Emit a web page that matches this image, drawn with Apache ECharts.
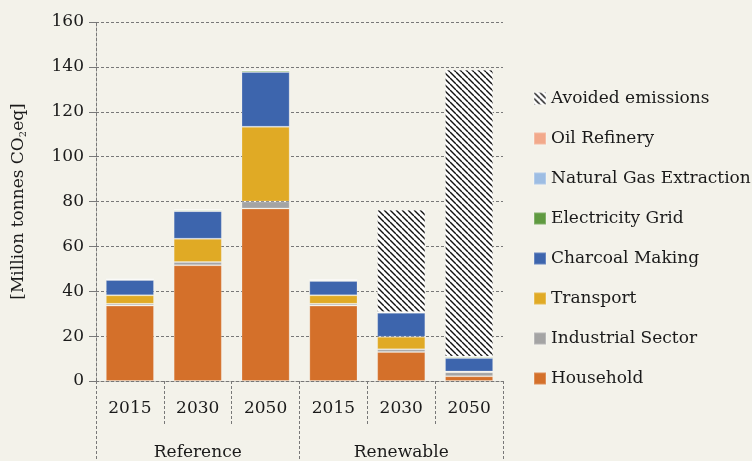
<!DOCTYPE html>
<html>
<head>
<meta charset="utf-8">
<script src="https://cdn.jsdelivr.net/npm/echarts@6/dist/echarts.min.js"></script>
<style>
  html, body { margin: 0; padding: 0; background: #f3f2ea; }
  #chart { width: 752px; height: 461px; }
</style>
</head>
<body>
<div id="chart"></div>
<script>
// Emissions by sector, million tonnes CO2eq
const years = ['2015', '2030', '2050', '2015', '2030', '2050'];
const scenarios = ['Reference', 'Renewable'];

const household   = [33.6, 51.6, 76.9, 33.6, 12.9, 2.1];
const industrial  = [0.8, 1.4, 3.1, 0.8, 1.2, 1.8];
const transport   = [3.8, 10.4, 33.3, 3.8, 5.6, 0.3];
const charcoal    = [6.8, 12.3, 24.4, 6.4, 10.7, 6.0];
const electricity = [0.3, 0.5, 0.7, 0.4, 0.2, 0.6];
const naturalGas  = [0.05, 0.05, 0.05, 0.05, 0.05, 0.05];
const oilRefinery = [0.05, 0.05, 0.05, 0.05, 0.05, 0.05];
const avoided     = [0, 0, 0, 0, 45.6, 127.8];

const FONT = 'DejaVu Serif';
const TEXT = '#1a1a1a';
const DASH = '#787878';
const DASH_PATTERN = [3, 2];

// diagonal black/white hatch for avoided emissions
function hatch() {
  const c = document.createElement('canvas');
  const s = 6;
  c.width = s; c.height = s;
  const g = c.getContext('2d');
  g.fillStyle = '#ffffff';
  g.fillRect(0, 0, s, s);
  g.strokeStyle = '#111111';
  g.lineWidth = 1.4;
  for (let k = -1; k <= 1; k++) {
    g.beginPath();
    g.moveTo(k * s, 0);
    g.lineTo(k * s + s, s);
    g.stroke();
  }
  return { image: c, repeat: 'repeat' };
}

const chart = echarts.init(document.getElementById('chart'), null, { renderer: 'canvas' });

function bar(name, data, color) {
  return {
    name, type: 'bar', stack: 'total', data,
    barCategoryGap: '29%',
    itemStyle: { color, borderColor: 'rgba(255,255,255,0.22)', borderWidth: 1 },
    emphasis: { disabled: true }
  };
}

chart.setOption({
  backgroundColor: '#f3f2ea',
  animation: false,
  textStyle: { fontFamily: FONT, color: TEXT },
  grid: { left: 96, right: 249, top: 22, bottom: 80, containLabel: false },
  legend: {
    orient: 'vertical',
    left: 528, top: 85,
    itemWidth: 12, itemHeight: 12, itemGap: 23,
    icon: 'rect',
    textStyle: { fontFamily: FONT, fontSize: 17, color: TEXT },
    data: ['Avoided emissions', 'Oil Refinery', 'Natural Gas Extraction', 'Electricity Grid',
           'Charcoal Making', 'Transport', 'Industrial Sector', 'Household']
  },
  xAxis: [
    {
      type: 'category', data: years, position: 'bottom',
      axisLine: { show: true, lineStyle: { color: DASH, type: DASH_PATTERN, width: 1 } },
      axisTick: { show: true, interval: 0, length: 44, lineStyle: { color: DASH, type: DASH_PATTERN } },
      axisLabel: { interval: 0, margin: 19, fontFamily: FONT, fontSize: 17, color: TEXT }
    },
    {
      type: 'category', data: scenarios, position: 'bottom',
      axisLine: { show: false },
      axisTick: { show: true, interval: 0, length: 82, lineStyle: { color: DASH, type: DASH_PATTERN } },
      axisLabel: { interval: 0, margin: 63, fontFamily: FONT, fontSize: 17, color: TEXT }
    }
  ],
  yAxis: {
    type: 'value', min: 0, max: 160, interval: 20,
    name: '[Million tonnes CO{sub|2}eq]',
    nameLocation: 'middle', nameGap: 68, nameRotate: 90,
    nameTextStyle: {
      fontFamily: FONT, fontSize: 17, color: TEXT,
      rich: { sub: { fontFamily: FONT, fontSize: 10, color: TEXT, padding: [9, 0, 0, 0] } }
    },
    axisLine: { show: true, lineStyle: { color: DASH, type: DASH_PATTERN } },
    axisTick: { show: true, length: 7, lineStyle: { color: DASH } },
    axisLabel: { margin: 12, fontFamily: FONT, fontSize: 17, color: TEXT },
    splitLine: { show: true, lineStyle: { color: DASH, type: DASH_PATTERN, width: 1 } }
  },
  series: [
    bar('Household', household, '#d4702a'),
    bar('Industrial Sector', industrial, '#a4a4a4'),
    bar('Transport', transport, '#e0aa25'),
    bar('Charcoal Making', charcoal, '#3d65ad'),
    bar('Electricity Grid', electricity, '#5f9a40'),
    bar('Natural Gas Extraction', naturalGas, '#9dbde3'),
    bar('Oil Refinery', oilRefinery, '#f2a98b'),
    bar('Avoided emissions', avoided, hatch())
  ]
});
</script>
</body>
</html>
